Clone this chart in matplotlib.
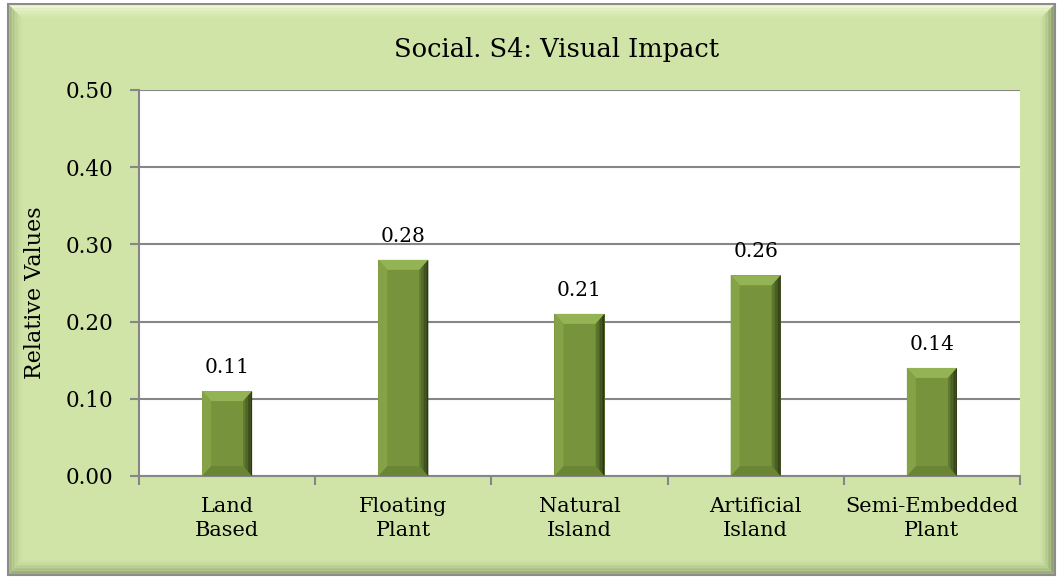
import numpy as np
import matplotlib.pyplot as plt
from matplotlib.patches import Polygon, Rectangle

categories = ["Land\nBased", "Floating\nPlant", "Natural\nIsland", "Artificial\nIsland", "Semi-Embedded\nPlant"]
values = [0.11, 0.28, 0.21, 0.26, 0.14]
yticks = [0.0, 0.1, 0.2, 0.3, 0.4, 0.5]

plt.rcParams['font.family'] = ['DejaVu Serif']

W, H = 1061, 579
fig = plt.figure(figsize=(W / 100, H / 100), dpi=100)
fig.patch.set_facecolor('white')

# background frame drawn in pixel units
bg = fig.add_axes([0, 0, 1, 1], zorder=-1)
bg.set_xlim(0, W)
bg.set_ylim(H, 0)
bg.axis('off')

x0, y0, x1, y1 = 8, 4, 1055, 575
base = np.array([0.816, 0.894, 0.655])
bg.add_patch(Rectangle((x0, y0), x1 - x0, y1 - y0, facecolor=base, edgecolor='none'))

def mix(c, t):
    return tuple(np.clip(base + (np.array(c) - base) * t, 0, 1))

bev = 15
steps = 10
sides = {
    'top': (0.95, 0.98, 0.86),
    'left': (0.62, 0.70, 0.48),
    'right': (0.50, 0.58, 0.38),
    'bottom': (0.55, 0.63, 0.42),
}
for i in range(steps):
    a = bev * i / steps
    b = bev * (i + 1) / steps
    t = 1 - i / steps
    polys = {
        'top': [(x0 + a, y0 + a), (x1 - a, y0 + a), (x1 - b, y0 + b), (x0 + b, y0 + b)],
        'bottom': [(x0 + a, y1 - a), (x1 - a, y1 - a), (x1 - b, y1 - b), (x0 + b, y1 - b)],
        'left': [(x0 + a, y0 + a), (x0 + b, y0 + b), (x0 + b, y1 - b), (x0 + a, y1 - a)],
        'right': [(x1 - a, y0 + a), (x1 - b, y0 + b), (x1 - b, y1 - b), (x1 - a, y1 - a)],
    }
    for k, p in polys.items():
        bg.add_patch(Polygon(p, closed=True, facecolor=mix(sides[k], t ** 1.5), edgecolor='none'))
bg.add_patch(Rectangle((x0, y0), x1 - x0, y1 - y0, facecolor='none', edgecolor='#8c8c8c', lw=1.5))

# main chart
ax = fig.add_axes([139 / W, 1 - 476 / H, (1020 - 139) / W, (476 - 90) / H])
ax.set_facecolor('white')
x = np.arange(len(categories))
bw = 0.284
face = '#77933c'
ax.bar(x, values, width=bw, color=face, zorder=3)

ax.set_xlim(-0.5, len(categories) - 0.5)
ax.set_ylim(0, 0.5)

# bevel on bars
ppx = ax.bbox.width / (len(categories))
ppy = ax.bbox.height / 0.5
dx = 9 / ppx
dy = 10 / ppy
for xi, v in zip(x, values):
    l, r = xi - bw / 2, xi + bw / 2
    top = [(l, v), (r, v), (r - dx, v - dy), (l + dx, v - dy)]
    bot = [(l, 0), (r, 0), (r - dx, dy), (l + dx, dy)]
    left = [(l, v), (l + dx, v - dy), (l + dx, dy), (l, 0)]
    ax.add_patch(Polygon(top, closed=True, facecolor='#94b355', edgecolor='none', zorder=4))
    ax.add_patch(Polygon(bot, closed=True, facecolor='#6a8534', edgecolor='none', zorder=4))
    ax.add_patch(Polygon(left, closed=True, facecolor='#84a246', edgecolor='none', zorder=4))
    n = 6
    for j in range(n):
        a = dx * j / n
        b = dx * (j + 1) / n
        t = (j + 1) / n
        c = np.array([0.42, 0.53, 0.21]) * (1 - t) + np.array([0.17, 0.22, 0.08]) * t
        rp = [(r - dx + a, v - dy + dy * j / n), (r - dx + b, v - dy + dy * (j + 1) / n),
              (r - dx + b, dy - dy * (j + 1) / n), (r - dx + a, dy - dy * j / n)]
        ax.add_patch(Polygon(rp, closed=True, facecolor=tuple(c), edgecolor='none', zorder=4))
    ax.annotate(f"{v:.2f}", (xi, v), xytext=(0, 13), textcoords='offset points',
                ha='center', va='baseline', fontsize=14.5, color='black')

ax.set_yticks(yticks)
ax.set_yticklabels([f"{t:.2f}" for t in yticks], fontsize=15.5)
ax.set_xticks(x)
ax.set_xticklabels(categories, fontsize=15, linespacing=1.35)
ax.set_xticks(np.arange(-0.5, len(categories)), minor=True)
ax.tick_params(axis='x', which='major', length=0, pad=15)
ax.tick_params(axis='x', which='minor', length=6.5, width=1.5, color='#868686', direction='out')
ax.tick_params(axis='y', length=6.5, width=1.5, color='#868686', pad=12)
ax.yaxis.grid(True, color='#868686', lw=1.5, zorder=0)
ax.set_axisbelow(True)
for s in ['top', 'right']:
    ax.spines[s].set_visible(False)
for s in ['left', 'bottom']:
    ax.spines[s].set_color('#868686')
    ax.spines[s].set_linewidth(1.5)

fig.text(557 / W, 1 - 50 / H, "Social. S4: Visual Impact", ha='center', va='center', fontsize=18.5)
fig.text(35 / W, 1 - 293 / H, "Relative Values", ha='center', va='center', rotation=90, fontsize=16)

fig.savefig('out.png', dpi=100)
